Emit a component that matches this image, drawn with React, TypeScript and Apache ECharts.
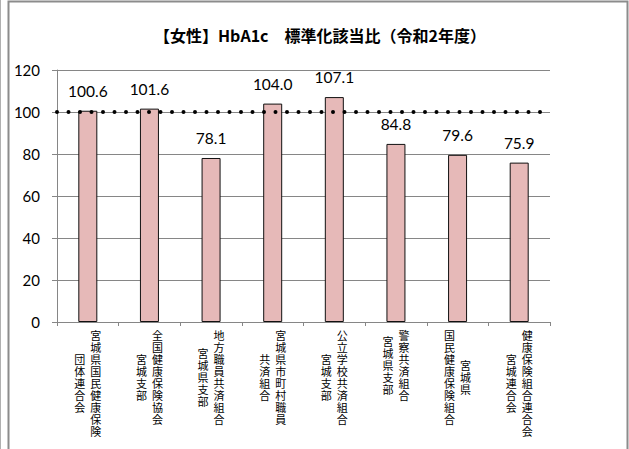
import React, { useEffect, useRef } from "react";
import * as echarts from "echarts";

const titleText = "【女性】HbA1c　標準化該当比（令和2年度）";
const labelLine1 = ["宮城県国民健康保険", "全国健康保険協会", "地方職員共済組合", "宮城県市町村職員", "公立学校共済組合", "警察共済組合", "宮城県", "健康保険組合連合会"];
const labelLine2 = ["団体連合会", "宮城支部", "宮城県支部", "共済組合", "宮城支部", "宮城県支部", "国民健康保険組合", "宮城連合会"];
const values = [100.6, 101.6, 78.1, 104.0, 107.1, 84.8, 79.6, 75.9];
const referenceValue = 100;
const yMin = 0;
const yMax = 120;
const yInterval = 20;

const LH = 12;
const SHIFT = 16;

function buildAxisData(which: 1 | 2) {
  return labelLine1.map((l1, i) => {
    const l2 = labelLine2[i];
    const maxLen = Math.max(l1.length, l2.length);
    const txt = which === 1 ? l1 : l2;
    const top = ((maxLen - txt.length) * LH) / 2;
    return {
      value: txt,
      textStyle: {
        padding: which === 1 ? [top, 0, 0, SHIFT] : [top, SHIFT, 0, 0],
      },
    };
  });
}

export default function App() {
  const ref = useRef<HTMLDivElement>(null);
  useEffect(() => {
    if (!ref.current) return;
    const chart = echarts.init(ref.current, null, { renderer: "svg" });
    const axisLabelBase = {
      interval: 0,
      fontFamily: "Noto Sans CJK JP",
      fontSize: 11,
      lineHeight: LH,
      color: "#000",
      margin: 7,
      verticalAlign: "top" as const,
      align: "center" as const,
      formatter: (v: string) => v.split("").join("\n"),
    };
    chart.setOption({
      animation: false,
      backgroundColor: "#fff",
      title: {
        text: titleText,
        left: 149,
        top: 22,
        textStyle: {
          fontFamily: "Noto Sans CJK JP",
          fontWeight: "bold",
          fontSize: 16,
          color: "#000",
        },
      },
      graphic: [
        {
          type: "rect",
          shape: { x: 8.5, y: 1.5, width: 619, height: 470 },
          style: { fill: "none", stroke: "#8c8c8c", lineWidth: 2 },
          silent: true,
        },
        {
          type: "line",
          shape: { x1: 0.5, y1: 0, x2: 0.5, y2: 449 },
          style: { stroke: "#b0b0b0", lineWidth: 1 },
          silent: true,
        },
      ],
      grid: { left: 57, right: 79, top: 70, bottom: 127 },
      xAxis: [
        {
          type: "category",
          data: buildAxisData(1),
          axisLine: { show: true, lineStyle: { color: "#868686", width: 1 } },
          axisTick: { show: true, length: 4, lineStyle: { color: "#868686" } },
          axisLabel: axisLabelBase,
        },
        {
          type: "category",
          position: "bottom",
          data: buildAxisData(2),
          axisLine: { show: false },
          axisTick: { show: false },
          axisLabel: axisLabelBase,
        },
      ],
      yAxis: {
        type: "value",
        min: yMin,
        max: yMax,
        interval: yInterval,
        axisLine: { show: true, lineStyle: { color: "#868686", width: 1 } },
        axisTick: { show: true, length: 5, lineStyle: { color: "#868686" } },
        splitLine: { show: true, lineStyle: { color: "#868686", width: 1 } },
        axisLabel: {
          fontFamily: "Lato",
          fontSize: 15,
          color: "#000",
          margin: 17,
        },
      },
      series: [
        {
          type: "bar",
          xAxisIndex: 0,
          data: values,
          barWidth: 19,
          itemStyle: { color: "#E6B9B8", borderColor: "#111", borderWidth: 1 },
          label: {
            show: true,
            position: "top",
            distance: 12,
            fontFamily: "Lato",
            fontSize: 15.5,
            color: "#000",
            formatter: (p: any) => Number(p.value).toFixed(1),
          },
          markLine: {
            silent: true,
            symbol: "none",
            label: { show: false },
            lineStyle: { color: "#000", width: 4, type: [0, 11.5], cap: "round" },
            data: [{ yAxis: referenceValue }],
          },
        },
      ],
    });
    return () => chart.dispose();
  }, []);
  return (
    <div
      ref={ref}
      style={{ position: "fixed", left: 0, top: 0, width: 629, height: 449 }}
    />
  );
}
